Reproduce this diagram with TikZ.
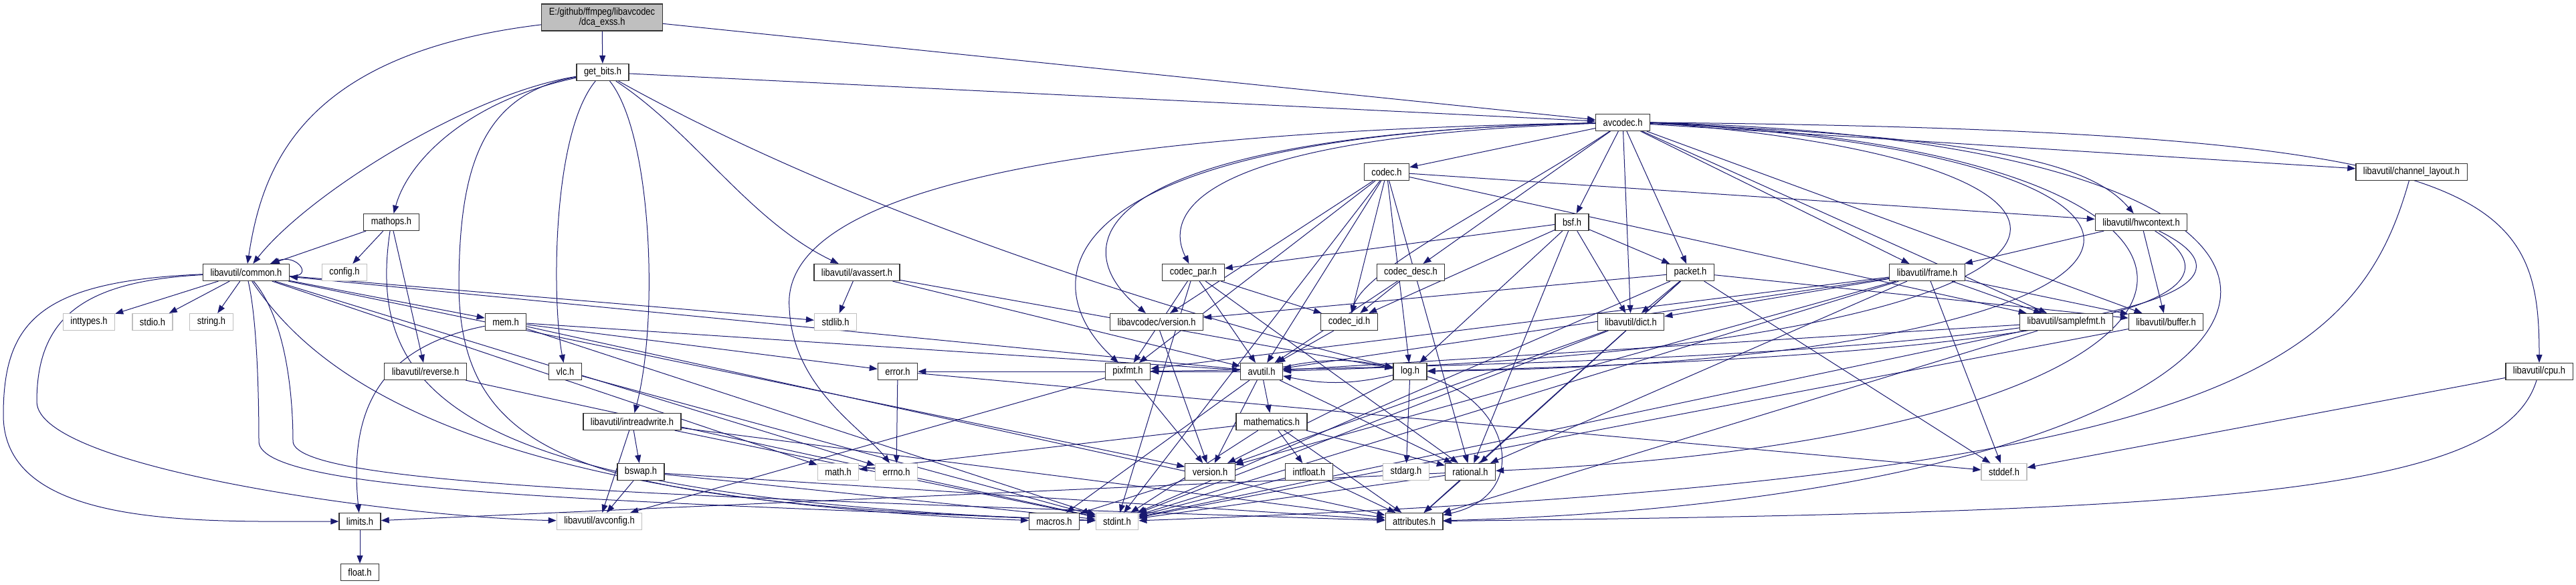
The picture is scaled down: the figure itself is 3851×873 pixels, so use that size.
\documentclass[tikz,border=0pt]{standalone}
\usepackage{fontspec}
\usepackage{xcolor}
\usepackage{tikz}
\usetikzlibrary{arrows.meta}
\usetikzlibrary{backgrounds}
\newfontfamily\dotfont[FakeStretch=0.86]{Liberation Sans}
\definecolor{edgeblue}{HTML}{191970}
\definecolor{nodegray}{HTML}{BFBFBF}

\begin{document}
\begin{tikzpicture}[
      >={Triangle[length=12pt,width=9pt]},
      x=1pt, y=-1pt,
      hdr/.style={draw=black!80, line width=1.2pt, fill=white, inner xsep=11pt, inner ysep=0pt,
        minimum height=25pt, font=\dotfont\fontsize{15}{15}\selectfont},
      sys_hdr/.style={hdr, draw=nodegray},
      root_hdr/.style={hdr, fill=nodegray, align=center, minimum height=40pt},
      inc/.style={->, draw=edgeblue, line width=1pt}
    ]
    \useasboundingbox (0,0) rectangle (3851,873);

    % Nodi
    \node[root_hdr] (root) at (900,26) {E:/github/ffmpeg/libavcodec\\/dca\_exss.h};
    \node[hdr] (get_bits) at (901,108) {get\_bits.h};
    \node[hdr] (avcodec) at (2426,183) {avcodec.h};
    \node[hdr] (codec) at (2073,257) {codec.h};
    \node[hdr] (ch_layout) at (3605,257) {libavutil/channel\_layout.h};
    \node[hdr] (mathops) at (585,332) {mathops.h};
    \node[hdr] (bsf) at (2350,332) {bsf.h};
    \node[hdr] (hwcontext) at (3201,332) {libavutil/hwcontext.h};
    \node[hdr] (common) at (368,407) {libavutil/common.h};
    \node[sys_hdr] (config) at (515,407) {config.h};
    \node[hdr] (avassert) at (1281,407) {libavutil/avassert.h};
    \node[hdr] (codec_par) at (1784,407) {codec\_par.h};
    \node[hdr] (codec_desc) at (2109,407) {codec\_desc.h};
    \node[hdr] (packet) at (2527,407) {packet.h};
    \node[hdr] (frame) at (2881,407) {libavutil/frame.h};
    \node[sys_hdr] (inttypes) at (133,481) {inttypes.h};
    \node[sys_hdr] (stdio) at (228,481) {stdio.h};
    \node[sys_hdr] (string) at (316,481) {string.h};
    \node[hdr] (mem) at (756,481) {mem.h};
    \node[sys_hdr] (stdlib) at (1249,481) {stdlib.h};
    \node[hdr] (lavc_version) at (1729,481) {libavcodec/version.h};
    \node[hdr] (codec_id) at (2017,481) {codec\_id.h};
    \node[hdr] (dict) at (2438,481) {libavutil/dict.h};
    \node[hdr] (samplefmt) at (3089,481) {libavutil/samplefmt.h};
    \node[hdr] (buffer) at (3238,481) {libavutil/buffer.h};
    \node[hdr] (reverse) at (636,555) {libavutil/reverse.h};
    \node[hdr] (vlc) at (845,555) {vlc.h};
    \node[hdr] (error) at (1342,555) {error.h};
    \node[hdr] (pixfmt) at (1686,555) {pixfmt.h};
    \node[hdr] (avutil) at (1886,555) {avutil.h};
    \node[hdr] (log) at (2108,555) {log.h};
    \node[hdr] (cpu) at (3796,555) {libavutil/cpu.h};
    \node[hdr] (intreadwrite) at (945,630) {libavutil/intreadwrite.h};
    \node[hdr] (mathematics) at (1901,630) {mathematics.h};
    \node[hdr] (bswap) at (958,705) {bswap.h};
    \node[sys_hdr] (math) at (1253,705) {math.h};
    \node[sys_hdr] (errno) at (1340,705) {errno.h};
    \node[hdr] (version) at (1809,705) {version.h};
    \node[hdr] (intfloat) at (1957,705) {intfloat.h};
    \node[sys_hdr] (stdarg) at (2102,705) {stdarg.h};
    \node[hdr] (rational) at (2198,705) {rational.h};
    \node[sys_hdr] (stddef) at (2996,705) {stddef.h};
    \node[hdr] (limits) at (538,779) {limits.h};
    \node[sys_hdr] (avconfig) at (896,779) {libavutil/avconfig.h};
    \node[hdr] (macros) at (1576,779) {macros.h};
    \node[sys_hdr] (stdint) at (1670,779) {stdint.h};
    \node[hdr] (attributes) at (2114,779) {attributes.h};
    \node[hdr] (float) at (538,855) {float.h};

    % Archi
    \begin{scope}[on background layer]
    \fill[white] (0,0) rectangle (3851,873);

    % dca_exss.h
    \draw[inc] (root) -- (get_bits);
    \draw[inc] (root) -- (avcodec);
    \draw[inc] (root) .. controls (450,80) and (392,250) .. (common);

    % get_bits.h
    \draw[inc] (get_bits) -- (avcodec);
    \draw[inc] (get_bits) .. controls (700,140) and (460,290) .. (common);
    \draw[inc] (get_bits) .. controls (700,150) and (610,240) .. (mathops);
    \draw[inc] (get_bits) .. controls (720,140) and (686,250) .. (686,430)
                          .. controls (690,700) and (900,752) .. (stdint);
    \draw[inc] (get_bits) .. controls (825,200) and (825,450) .. (vlc);
    \draw[inc] (get_bits) .. controls (975,200) and (985,480) .. (intreadwrite);
    \draw[inc] (get_bits) .. controls (1040,200) and (1120,330) .. (avassert);
    \draw[inc] (get_bits) .. controls (1300,330) and (1800,480) .. (log);

    % avcodec.h
    \foreach \t in {codec,codec_desc,bsf,packet,dict,frame,samplefmt,buffer,ch_layout}
      \draw[inc] (avcodec) -- (\t);
    \draw[inc] (avcodec) .. controls (2250,300) and (2040,400) .. (codec_id);
    \draw[inc] (avcodec) .. controls (1780,205) and (1740,320) .. (codec_par);
    \draw[inc] (avcodec) .. controls (1640,200) and (1580,360) .. (lavc_version);
    \draw[inc] (avcodec) .. controls (1560,200) and (1540,420) .. (pixfmt);
    \draw[inc] (avcodec) .. controls (1400,200) and (1170,330) .. (1180,460)
                         .. controls (1185,580) and (1290,640) .. (errno);
    \draw[inc] (avcodec) .. controls (3000,205) and (3130,250) .. (hwcontext);
    \draw[inc] (avcodec.east) .. controls (3720,195) and (3796,280) .. (cpu);
    \draw[inc] (avcodec.east) .. controls (3760,215) and (3520,740) .. (attributes);
    \draw[inc] (avcodec.east) .. controls (3500,225) and (3440,650) .. (rational);
    \draw[inc] (avcodec.east) .. controls (3420,235) and (3330,540) .. (log);
    \draw[inc] (avcodec.east) .. controls (3300,245) and (3200,520) .. (avutil);

    % codec.h, codec_desc.h, codec_par.h, bsf.h, packet.h
    \foreach \t in {hwcontext,samplefmt,lavc_version,codec_id,avutil,log,pixfmt,rational,stdint}
      \draw[inc] (codec) -- (\t);
    \foreach \t in {avutil,codec_id}
      \draw[inc] (codec_desc) -- (\t);
    \foreach \t in {stdint,avutil,rational,pixfmt,codec_id}
      \draw[inc] (codec_par) -- (\t);
    \foreach \t in {dict,log,rational,codec_id,codec_par,packet}
      \draw[inc] (bsf) -- (\t);
    \foreach \t in {stddef,stdint,attributes,buffer,dict,rational,lavc_version}
      \draw[inc] (packet) -- (\t);
    \draw[inc] (codec_id) -- (avutil);
    \draw[inc] (lavc_version) -- (version);

    % libavutil
    \draw[inc] (hwcontext) -- (buffer);
    \draw[inc] (hwcontext) -- (frame);
    \draw[inc] (hwcontext) .. controls (3340,420) and (3300,525) .. (log);
    \draw[inc] (hwcontext) .. controls (3380,420) and (3320,535) .. (pixfmt);
    \foreach \t in {stddef,stdint,avutil,buffer,dict,rational,samplefmt,pixfmt,version}
      \draw[inc] (frame) -- (\t);
    \foreach \t in {stdint,avutil,attributes}
      \draw[inc] (samplefmt) -- (\t);
    \draw[inc] (buffer) -- (stdint);
    \draw[inc] (dict) -- (stdint);
    \draw[inc] (dict) -- (version);
    \draw[inc] (ch_layout) .. controls (3520,560) and (3300,720) .. (stdint);
    \draw[inc] (cpu) -- (stddef);
    \draw[inc] (cpu) .. controls (3740,740) and (3300,765) .. (attributes);
    \foreach \t in {common,error,rational,version,macros,mathematics,pixfmt}
      \draw[inc] (avutil) -- (\t);
    \draw[inc] (avutil) to[bend left=12] (log);
    \draw[inc] (log) to[bend left=12] (avutil);
    \draw[inc] (log) -- (stdarg);
    \draw[inc] (log) -- (version);
    \draw[inc] (log) .. controls (2260,600) and (2290,740) .. (attributes);

    % common.h
    \foreach \t in {inttypes,stdio,string,errno,math,stdlib,mem,version}
      \draw[inc] (common) -- (\t);
    \draw[inc] (common.-5) .. controls +(38,2) and +(40,-16) .. (common.20);
    \draw[inc] (common) .. controls (60,420) and (5,480) .. (5,620)
                        .. controls (5,790) and (300,779) .. (limits);
    \draw[inc] (common) .. controls (130,420) and (55,470) .. (55,600)
                        .. controls (55,700) and (600,773) .. (avconfig);
    \draw[inc] (common) .. controls (385,480) and (387,600) .. (387,660)
                        .. controls (390,735) and (900,748) .. (stdint);
    \draw[inc] (common) .. controls (430,480) and (438,600) .. (438,660)
                        .. controls (445,725) and (1000,742) .. (attributes);
    \draw[inc] (common) .. controls (470,560) and (700,745) .. (macros);

    % mem.h, error.h e il resto
    \foreach \t in {stdint,attributes,error,avutil}
      \draw[inc] (mem) -- (\t);
    \draw[inc] (mem) .. controls (560,520) and (522,620) .. (limits);
    \draw[inc] (error) -- (errno);
    \draw[inc] (error) -- (stddef);
    \draw[inc] (pixfmt) -- (avconfig);
    \draw[inc] (pixfmt) -- (version);
    \foreach \t in {stdint,limits,attributes}
      \draw[inc] (rational) -- (\t);
    \foreach \t in {stdint,math,attributes,rational,intfloat}
      \draw[inc] (mathematics) -- (\t);
    \draw[inc] (intfloat) -- (stdint);
    \draw[inc] (intfloat) -- (attributes);
    \draw[inc] (version) -- (macros);
    \foreach \t in {stdlib,avutil,log}
      \draw[inc] (avassert) -- (\t);
    \foreach \t in {common,config,reverse}
      \draw[inc] (mathops) -- (\t);
    \draw[inc] (mathops) .. controls (545,600) and (700,745) .. (stdint);
    \draw[inc] (reverse) -- (stdint);
    \draw[inc] (vlc) -- (stdint);
    \foreach \t in {stdint,avconfig,attributes,bswap}
      \draw[inc] (intreadwrite) -- (\t);
    \foreach \t in {stdint,avconfig,attributes}
      \draw[inc] (bswap) -- (\t);
    \draw[inc] (limits) -- (float);
    \end{scope}
  \end{tikzpicture}
\end{document}
